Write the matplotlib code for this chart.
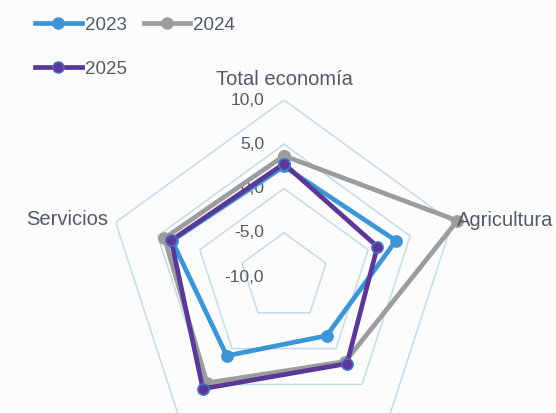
import numpy as np
import matplotlib.pyplot as plt
import matplotlib.transforms as mtransforms
from matplotlib.lines import Line2D

plt.rcParams['font.family'] = ['Liberation Sans', 'DejaVu Sans']

# datos por sector
categorias = ['Total economía', 'Agricultura', 'Industria', 'Construcción', 'Servicios']
serie_2023 = [2.5, 3.3, -1.8, 1.0, 3.3]
serie_2024 = [3.7, 10.6, 1.8, 4.8, 4.2]
serie_2025 = [2.8, 1.1, 2.1, 5.6, 3.4]
anillos = [-10, -5, 0, 5, 10]
etiquetas_anillos = ['-10,0', '-5,0', '0,0', '5,0', '10,0']

series = [('2024', serie_2024, '#9a9c9e', '#9a9c9e', 2),
          ('2023', serie_2023, '#3d95d6', '#3d95d6', 3),
          ('2025', serie_2025, '#5c3896', '#4570c4', 4)]

gris_texto = '#515b63'
color_rejilla = '#c4dae6'

n = len(categorias)
angulos = np.pi/2 - 2*np.pi*np.arange(n)/n

def cerrar(v):
    return list(v) + [v[0]]

fig = plt.figure(figsize=(5.56, 4.13), dpi=100, facecolor='#fcfcfd')
ax = fig.add_axes([0.1924, -0.0993, 0.6367, 0.8571], projection='polar')
ax.set_ylim(-10, 10)
ax.set_axis_off()

# pentágonos de la rejilla
for v in anillos[1:]:
    ax.plot(cerrar(angulos), [v]*(n+1), color=color_rejilla, lw=1.1, zorder=1)

# etiquetas de la escala, a la izquierda del eje superior
trans = mtransforms.offset_copy(ax.transData, fig=fig, x=-20, y=0, units='dots')
for v, lab in zip(anillos, etiquetas_anillos):
    ax.text(np.pi/2, v, lab, transform=trans, ha='right', va='center',
            fontsize=12.5, color=gris_texto, zorder=1)

for nombre, vals, color, borde, z in series:
    ax.plot(cerrar(angulos), cerrar(vals), color=color, lw=3.4, marker='o', ms=8,
            markerfacecolor=color, markeredgecolor=borde, markeredgewidth=1.2,
            zorder=z, clip_on=False)

# nombres de los ejes
ax.text(angulos[0], 12.3, categorias[0], ha='center', va='center', fontsize=14.5, color=gris_texto)
ax.text(angulos[1], 10.6, categorias[1], ha='left', va='center', fontsize=14.5, color=gris_texto)
ax.text(angulos[4], 10.9, categorias[4], ha='right', va='center', fontsize=14.5, color=gris_texto)

manejadores = [Line2D([], [], color=c, lw=3.4, marker='o', ms=8,
                      markerfacecolor=c, markeredgecolor=b) for _, _, c, b, _ in series]
por_nombre = dict(zip([s[0] for s in series], manejadores))
orden = ['2023', '2025', '2024']
fig.legend([por_nombre[k] for k in orden], orden, loc='upper left',
           bbox_to_anchor=(0.063, 0.96), ncol=2, frameon=False, fontsize=13.5,
           handlelength=2.5, handletextpad=0.15, columnspacing=0.9,
           labelspacing=1.45, borderpad=0, borderaxespad=0, labelcolor=gris_texto)

fig.savefig('out.png', dpi=100, facecolor=fig.get_facecolor())
